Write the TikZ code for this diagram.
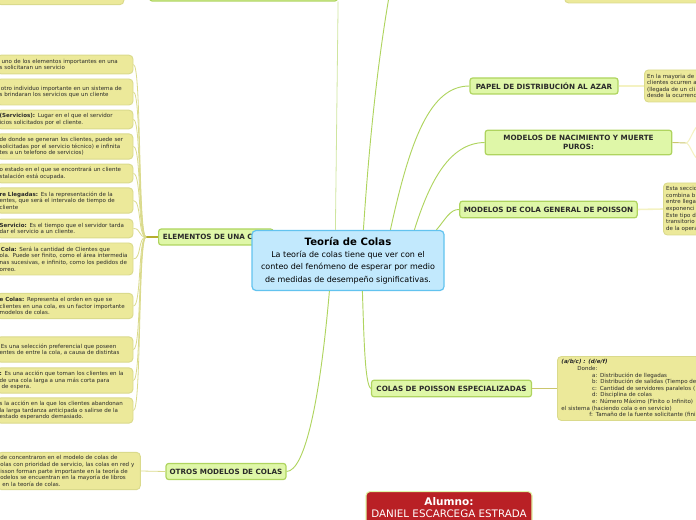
\documentclass[tikz,border=0pt]{standalone}
\usepackage{fontspec}
\setmainfont{DejaVu Sans}
\usepackage{xcolor}
\usetikzlibrary{positioning,calc}
\definecolor{leaffill}{HTML}{ECE99A}
\definecolor{leafline}{HTML}{DADA8C}
\definecolor{branchfill}{HTML}{DFF7A8}
\definecolor{branchline}{HTML}{AFD45F}
\definecolor{rootfill}{HTML}{C2E9FD}
\definecolor{rootline}{HTML}{62C3EF}
\definecolor{redfill}{HTML}{B92025}
\definecolor{inktext}{HTML}{2A2A2A}
\definecolor{olive}{HTML}{B5AE2E}
\tikzset{
  leafbox/.style={draw=leafline, fill=leaffill, line width=0.7pt, rounded corners=3pt, align=left, inner xsep=2pt, inner ysep=0pt, text=inktext, font=\fontsize{4.15}{4.95}\selectfont},
  leftbox/.style={leafbox, text width=98pt, minimum width=102pt},
  rightbox/.style={leafbox, text width=120pt, minimum width=124pt, inner xsep=2pt},
  branchbox/.style={draw=branchline, fill=branchfill, line width=0.9pt, rounded corners=2pt, align=center, inner sep=0pt, text=inktext, font=\fontsize{5.4}{8.2}\selectfont\bfseries},
  rootbox/.style={draw=rootline, fill=rootfill, line width=0.9pt, rounded corners=3pt, align=center, inner sep=0pt, minimum width=144pt, minimum height=45pt, font=\fontsize{6}{9.2}\selectfont},
  redbox/.style={draw=branchfill, fill=redfill, line width=0.8pt, rounded corners=3pt, align=center, inner sep=0pt, text=white, minimum width=124.5pt, minimum height=36pt},
  trunk/.style={draw=branchline, line width=0.7pt},
  trunkpale/.style={draw=branchline!60, line width=0.6pt},
  twig/.style={draw=leafline, line width=0.6pt},
  twigpale/.style={draw=leaffill!60, line width=1.2pt},
  twigolive/.style={draw=olive, line width=1pt},
}
\begin{document}
\begin{tikzpicture}[x=0.75pt, y=-0.75pt]
  \useasboundingbox (0,0) rectangle (696,520);
  \clip (0,0) rectangle (696,520);

  % Branch nodes
  \node[branchbox, minimum width=141pt, minimum height=12pt] (top) at (243.5,-7) {};
  \node[branchbox, minimum width=86pt, minimum height=12pt, anchor=west] (elementos) at (158,237) {ELEMENTOS DE UNA COLA};
  \node[branchbox, minimum width=90pt, minimum height=12pt] (otros) at (226,471.5) {OTROS MODELOS DE COLAS};
  \node[branchbox, minimum width=111pt, minimum height=12pt] (papel) at (544,86) {PAPEL DE DISTRIBUCIÓN AL AZAR};
  \node[branchbox, minimum width=140pt, minimum height=18.5pt] (nacimiento) at (578.5,142.5) {MODELOS DE NACIMIENTO Y MUERTE\\[-1pt]PUROS:};
  \node[branchbox, minimum width=133pt, minimum height=12.5pt] (general) at (548.5,209.5) {MODELOS DE COLA GENERAL DE POISSON};
  \node[branchbox, minimum width=120pt, minimum height=12.5pt] (especial) at (451.5,388.5) {COLAS DE POISSON ESPECIALIZADAS};
  \node[branchbox, minimum width=60pt, minimum height=12pt] (arriba) at (396,-40) {};

  % Left leaves
  \node[leafbox, minimum width=95pt, minimum height=10pt] (l0) at (60.5,-2) {};
  \node[leftbox, minimum height=14pt] (l1) at (65,64.5) {\hspace*{1.5pt}uno de los elementos importantes en una\\s solicitaran un servicio};
  \node[leftbox, minimum height=19.5pt] (l2) at (65,92) {\hspace*{1pt}otro individuo importante en un sistema de\\s brindaran los servicios que un cliente\\[2pt]};
  \node[leftbox, minimum height=14pt] (l3) at (65,119.5) {\textbf{(Servicios):} Lugar en el que el servidor\\icios solicitados por el cliente.};
  \node[leftbox, minimum height=19pt] (l4) at (65,146.5) {de donde se generan los clientes, puede ser\\solicitadas por el servicio técnico) e infinita\\tes a un telefono de servicios)};
  \node[leftbox, minimum height=14pt] (l5) at (65,173.5) {o estado en el que se encontrará un cliente\\stalación está ocupada.};
  \node[leftbox, minimum height=19pt] (l6) at (65,200.5) {\textbf{re Llegadas:} Es la representación de la\\entes, que será el intervalo de tiempo de\\cliente};
  \node[leftbox, minimum height=14pt] (l7) at (65,228.5) {\textbf{Servicio:} Es el tiempo que el servidor tarda\\dar el servicio a un cliente.};
  \node[leftbox, minimum height=24pt] (l8) at (65,259) {\hspace*{1pt}\textbf{Cola:} Será la cantidad de Clientes que\\ola. Puede ser finito, como el área intermedia\\nas sucesivas, e infinito, como los pedidos de\\orreo.};
  \node[leftbox, minimum height=19pt] (l9) at (65,306) {\textbf{e Colas:} Representa el orden en que se\\clientes en una cola, es un factor importante\\modelos de colas.};
  \node[leftbox, minimum height=19pt] (l10) at (65,349.5) {\hspace*{1pt}Es una selección preferencial que poseen\\entes de entre la cola, a causa de distintas\\[2pt]};
  \node[leftbox, minimum height=19pt] (l11) at (65,380.5) {\textbf{:} Es una acción que toman los clientes en la\\de una cola larga a una más corta para\\\hspace*{1.5pt}de espera.};
  \node[leftbox, minimum height=19pt] (l12) at (65,410.5) {s la acción en la que los clientes abandonan\\la larga tardanza anticipada o salirse de la\\estado esperando demasiado.};
  \node[leafbox, text width=103pt, minimum width=107pt, minimum height=28pt] (l13) at (69,471) {de concentraron en el modelo de colas de\\olas con prioridad de servicio, las colas en red y\\isson forman parte importante en la teoría de\\odelos se encuentran en la mayoría de libros\\\hspace*{1.5pt}en la teoría de colas.};

  % Right leaves
  \node[leafbox, minimum width=110pt, minimum height=12pt] (r0) at (638,-5) {};
  \node[leafbox, anchor=west, text width=100pt, minimum width=104pt, minimum height=24pt] (r1) at (644,86) {En la mayoria de\\clientes ocurren a\\(llegada de un cli\\desde la ocurrenc};
  \node[leafbox, anchor=west, text width=100pt, minimum width=104pt, minimum height=39pt] (r2) at (663,209) {Esta seccio\\combina b\\entre llega\\exponenci\\Este tipo d\\transitorio\\de la opera};
  \node[rightbox, anchor=west, minimum height=48pt, inner xsep=3pt, text width=118pt] (r3) at (557,388.5) {\textbf{\textit{(a/b/c) : (d/e/f)}}\\\hspace*{12pt}Donde:\\\hspace*{23pt}a: Distribución de llegadas\\\hspace*{23pt}b: Distribución de salidas (Tiempo de\\\hspace*{23pt}c: Cantidad de servidores paralelos (\\\hspace*{23pt}d: Disciplina de colas\\\hspace*{23pt}e: Número Máximo (Finito o Infinito)\\el sistema (haciendo cola o en servicio)\\\hspace*{21pt}f: Tamaño de la fuente solicitante (fini};
  \coordinate (n1) at (700,125);
  \coordinate (n2) at (700,160);
  \coordinate (nfork) at (686,143);
  \coordinate (efork) at (146,237);

  % Student box
  \node[redbox, anchor=north] (alumno) at (449,491) {};
  \node[text=white, font=\fontsize{7.9}{9.6}\selectfont\bfseries, anchor=base] (alumnolbl) at (449,505) {Alumno:};
  \node[text=white, font=\fontsize{7.75}{9.6}\selectfont, anchor=base] (nombre) at (449,517.5) {DANIEL ESCARCEGA ESTRADA};

  % Root
  \node[rootbox] (root) at (348,260.5) {{\fontsize{7.6}{10}\selectfont\bfseries Teoría de Colas}\\La teoría de colas tiene que ver con el\\conteo del fenómeno de esperar por medio\\de medidas de desempeño significativas.};

  % Root to branches
  \draw[trunkpale] ($(root.north west)+(84,0)$) -- (top.south east);
  \draw[trunk] ($(root.north west)+(112,0)$) .. controls (370,130) and (380,40) .. (arriba);
  \draw[trunk] ($(root.north west)+(139,0)$) .. controls (410,140) and (430,86) .. (papel.west);
  \draw[trunk] ($(root.north west)+(163,0)$) .. controls (430,180) and (450,143) .. (nacimiento.west);
  \draw[trunk] ($(root.north west)+(185,0)$) .. controls (445,220) and (450,209) .. (general.west);
  \draw[trunk] ($(root.south west)+(78,0)$) .. controls (320,400) and (305,471) .. (otros.east);
  \draw[trunk] ($(root.south west)+(111,0)$) .. controls (364,340) and (365,385) .. (especial.west);

  % Elementos fan
  \draw[twigolive] (elementos.west) -- (efork);
  \foreach \leaf in {l1,l2,l3,l4,l5,l6,l7,l8,l9,l10,l11,l12}
    \draw[twig] (efork) .. controls +(-8,0) and +(8,0) .. (\leaf.east);

  % Leaf links
  \draw[twig] (otros.west) -- (l13.east);
  \draw[twigpale] (papel.east) -- (r1.west);
  \draw[twigpale] (general.east) -- (r2.west);
  \draw[twigolive, line width=0.7pt, draw=olive!70] (especial.east) -- (r3.west);
  \draw[twigolive, line width=0.7pt, draw=olive!70] (nacimiento.east) -- (nfork);
  \draw[twigpale, line width=0.8pt] (nfork) .. controls +(4,0) and +(-6,0) .. (n1);
  \draw[twigpale, line width=0.8pt] (nfork) .. controls +(4,0) and +(-6,0) .. (n2);
\end{tikzpicture}
\end{document}
